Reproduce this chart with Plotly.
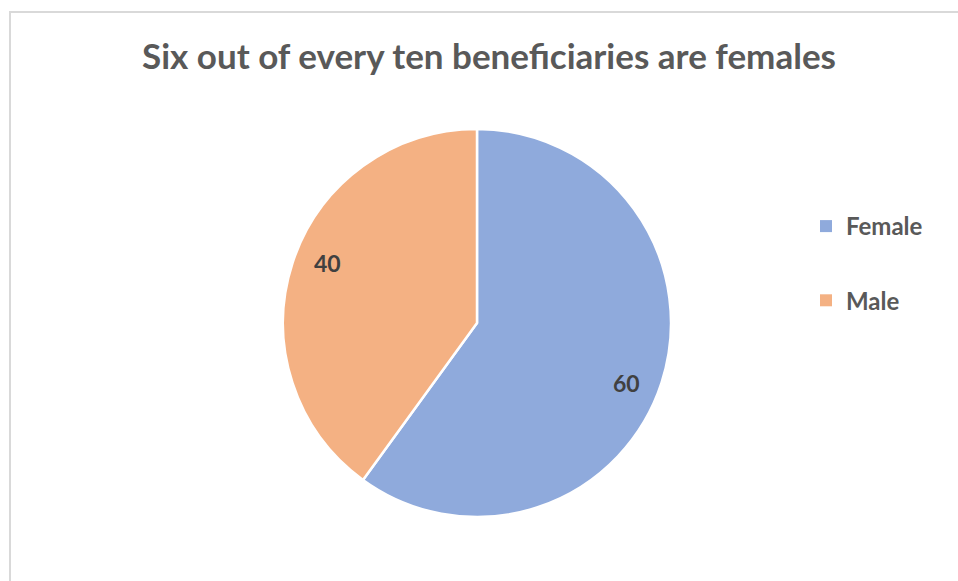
import math
import plotly.graph_objects as go

# Chart data
categories = ["Female", "Male"]
values = [60, 40]
colors = ["#8faadc", "#f4b183"]
title_text = "Six out of every ten beneficiaries are females"

W, H = 958, 581
cx, cy, r = 477, 323, 194  # pie centre and radius in pixels

fig = go.Figure()

fig.add_trace(go.Pie(
    labels=categories,
    values=values,
    sort=False,
    direction="clockwise",
    rotation=0,
    marker=dict(colors=colors, line=dict(color="white", width=2.5)),
    textinfo="none",
    hoverinfo="label+value",
    showlegend=False,
    domain=dict(x=[(cx - r) / W, (cx + r) / W], y=[1 - (cy + r) / H, 1 - (cy - r) / H]),
))

# Value labels placed near each slice's bisector
total = sum(values)
start = 0.0
annotations = []
for cat, v in zip(categories, values):
    mid = (start + v / 2) / total * 2 * math.pi + math.radians(4)
    start += v
    px = cx + 0.83 * r * math.sin(mid)
    py = cy - 0.83 * r * math.cos(mid)
    annotations.append(dict(
        x=px / W, y=1 - py / H, xref="paper", yref="paper",
        text=f"<b>{v}</b>", showarrow=False,
        font=dict(family="Lato", size=23, color="#404040"),
        xanchor="center", yanchor="middle",
    ))

# Legend entries
for cat, col in zip(categories, colors):
    fig.add_trace(go.Scatter(
        x=[None], y=[None], mode="markers", name=f"<b>{cat}</b>",
        marker=dict(symbol="square", size=10, color=col),
        legendgroup=cat, showlegend=True,
    ))

fig.update_layout(
    width=W, height=H,
    margin=dict(l=0, r=0, t=0, b=0),
    paper_bgcolor="white",
    plot_bgcolor="white",
    xaxis=dict(visible=False),
    yaxis=dict(visible=False),
    title=dict(
        text=f"<b>{title_text}</b>",
        x=489 / W, y=1 - 57 / H, xanchor="center", yanchor="middle",
        font=dict(family="Lato", size=35, color="#595959"),
    ),
    legend=dict(
        x=806 / W, y=1 - 204 / H, xanchor="left", yanchor="top",
        font=dict(family="Lato", size=24, color="#595959"),
        tracegroupgap=40,
        traceorder="grouped",
        itemsizing="constant",
        bgcolor="rgba(0,0,0,0)",
    ),
    annotations=annotations,
    shapes=[dict(
        type="rect", xref="paper", yref="paper",
        x0=10 / W, x1=1.1, y0=-0.1, y1=1 - 12 / H,
        line=dict(color="#d9d9d9", width=2), fillcolor="rgba(0,0,0,0)", layer="below",
    )],
)

fig.write_html("out.html")
